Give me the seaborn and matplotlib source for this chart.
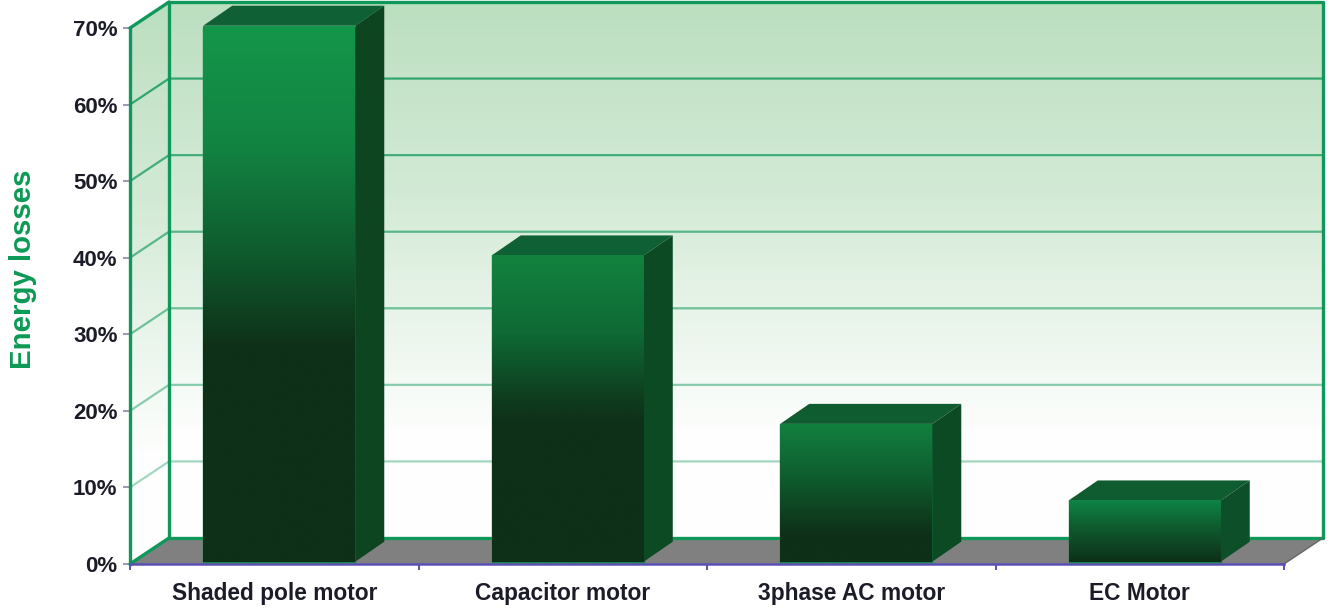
import numpy as np
import pandas as pd
import seaborn as sns
import matplotlib.pyplot as plt
from matplotlib.colors import LinearSegmentedColormap
from matplotlib.patches import Polygon

# data
motors = ['Shaded pole motor', 'Capacitor motor', '3phase AC motor', 'EC Motor']
losses = [70, 40, 18, 8]
y_ticks = [0, 10, 20, 30, 40, 50, 60, 70]

df = pd.DataFrame({'motor': motors, 'loss': losses})

sns.set_theme(style='white')
plt.rcParams['font.family'] = ['Liberation Sans', 'DejaVu Sans']

W, H = 1336, 611
fig = plt.figure(figsize=(W / 100, H / 100), dpi=100)
ax = fig.add_axes([130 / W, 1 - 564 / H, 1154 / W, 536 / H])

sns.barplot(data=df, x='motor', y='loss', width=0.527, color='#0e3018', ax=ax, zorder=3)
ax.set_xlim(-0.5, 3.5)
ax.set_ylim(0, 70)
ax.set_autoscale_on(False)

# depth of the 3d walls and bars, in data units
wall_dx, wall_dy = 39 / 288.5, 26 / 7.657
bar_dx, bar_dy = 29 / 288.5, 20 / 7.657
wall_green = '#10985a'


def gradient_poly(pts, stops, zorder):
    pts = np.array(pts)
    cmap = LinearSegmentedColormap.from_list('g', stops)
    grad = np.linspace(0, 1, 256).reshape(-1, 1)
    im = ax.imshow(grad, cmap=cmap, vmin=0, vmax=1, aspect='auto', zorder=zorder,
                   extent=(pts[:, 0].min(), pts[:, 0].max(), pts[:, 1].min(), pts[:, 1].max()),
                   interpolation='bilinear')
    clip = Polygon(pts, closed=True, transform=ax.transData)
    im.set_clip_box(fig.bbox)
    im.set_clip_path(clip)
    return im


def poly(pts, color, zorder, ec='none', lw=0):
    ax.add_patch(Polygon(pts, closed=True, fc=color, ec=ec, lw=lw, zorder=zorder, clip_on=False))


x0, x1 = -0.5, 3.5
top = 70
wall_stops = [(0, '#bcdfc0'), (0.35, '#d2ead5'), (0.8, '#fdfefd'), (1, '#ffffff')]

# back wall and side wall
gradient_poly([(x0 + wall_dx, wall_dy), (x1 + wall_dx, wall_dy),
               (x1 + wall_dx, top + wall_dy), (x0 + wall_dx, top + wall_dy)], wall_stops, 0.5)
gradient_poly([(x0, 0), (x0 + wall_dx, wall_dy), (x0 + wall_dx, top + wall_dy), (x0, top)], wall_stops, 0.5)

# floor
poly([(x0, 0), (x1, 0), (x1 + wall_dx, wall_dy), (x0 + wall_dx, wall_dy)], '#808080', 0.8)

# grid lines
for t in y_ticks[1:-1]:
    a = 0.3 + 0.6 * t / 70
    ax.plot([x0, x0 + wall_dx, x1 + wall_dx], [t, t + wall_dy, t + wall_dy],
            color=wall_green, lw=1.6, alpha=a, clip_on=False, zorder=1)

# wall outline
ax.plot([x0 + wall_dx, x0 + wall_dx, x1 + wall_dx, x1 + wall_dx, x0 + wall_dx],
        [top + wall_dy, wall_dy, wall_dy, top + wall_dy, top + wall_dy],
        color=wall_green, lw=2.4, clip_on=False, zorder=1.2)
ax.plot([x0, x0 + wall_dx], [0, wall_dy], color=wall_green, lw=2.4, clip_on=False, zorder=1.2)
ax.plot([x0, x0 + wall_dx], [top, top + wall_dy], color=wall_green, lw=2.4, clip_on=False, zorder=1.2)
ax.plot([x1, x1 + wall_dx], [0, wall_dy], color='#666666', lw=1, clip_on=False, zorder=1.2)

# bars, the face gets a gradient and the box is built on the bar patch
face_stops = [
    [(0, '#14964a'), (0.22, '#128442'), (0.42, '#0f5c2e'), (0.6, '#0e3018'), (1, '#0e3018')],
    [(0, '#13823f'), (0.25, '#0f6a35'), (0.48, '#0e3a1d'), (0.55, '#0e3018'), (1, '#0e3018')],
    [(0, '#12803f'), (0.35, '#0f6030'), (0.8, '#0e3018'), (1, '#0e3018')],
    [(0, '#0e8445'), (0.45, '#0f5a2e'), (1, '#0d3018')],
]
top_cols = ['#0f6034', '#0f6034', '#0f5c30', '#0f5c30']
side_cols = ['#0c4520', '#0c4a24', '#0c4a24', '#0c4f28']
for bar, stops, tc, sc in zip(ax.patches, face_stops, top_cols, side_cols):
    bar.set_x(bar.get_x() + 5 / 288.5)
    bar.set_y(0.3)
    l, b, w, h = bar.get_x(), bar.get_y(), bar.get_width(), bar.get_height()
    r, t = l + w, b + h
    bar.set_edgecolor('#13854a')
    bar.set_linewidth(1)
    poly([(l, t), (r, t), (r + bar_dx, t + bar_dy), (l + bar_dx, t + bar_dy)], tc, 3.1)
    poly([(r, b), (r + bar_dx, b + bar_dy), (r + bar_dx, t + bar_dy), (r, t)], sc, 3.1)
    gradient_poly([(l, b), (r, b), (r, t), (l, t)], stops, 3.2)

# axes
sns.despine(ax=ax, top=True, right=True)
ax.spines['left'].set_color(wall_green)
ax.spines['left'].set_linewidth(2.4)
ax.spines['bottom'].set_color('#5a50b4')
ax.spines['bottom'].set_linewidth(1.8)
ax.spines['left'].set_zorder(2)
ax.spines['bottom'].set_zorder(2.5)

txt = '#1c1c28'
ax.set_yticks(y_ticks)
ax.set_yticklabels([f'{t}%' for t in y_ticks], fontweight='bold', fontsize=16, color=txt)
ax.set_xticks(range(len(motors)))
ax.set_xticklabels(motors, fontweight='bold', fontsize=16.4, color=txt)
ax.set_xticks(np.arange(-0.5, 3.6, 1), minor=True)
ax.tick_params(axis='x', which='major', length=0, pad=13)
ax.tick_params(axis='x', which='minor', length=4, width=1.4, color='#5a50b4', bottom=True)
ax.tick_params(axis='y', length=5, width=1.2, color='#8a86a8', pad=4, left=True)

ax.set_xlabel('')
ax.set_ylabel('Energy losses', fontweight='bold', fontsize=21.2, color='#0d9a55', labelpad=26, y=0.55)

fig.savefig('out.png', dpi=100)
